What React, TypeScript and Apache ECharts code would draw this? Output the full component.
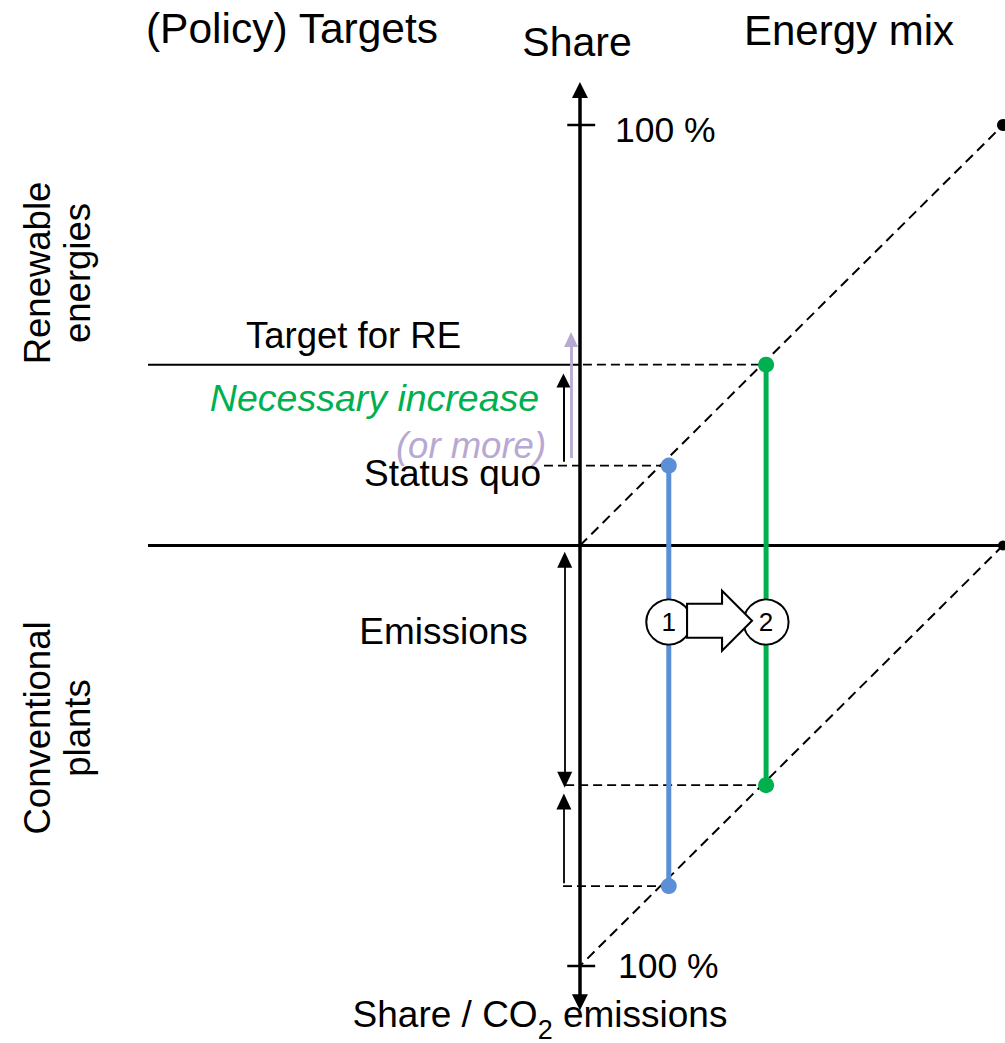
import React, { useEffect, useRef } from 'react';
import * as echarts from 'echarts';

const FONT = '"Liberation Sans", Arial, Helvetica, sans-serif';

// ---------------- data ----------------
// share axis in %: right part = energy mix, left part holds the annotations
const xRange = [-102.1, 100];
// up: renewable share, down: conventional share / CO2 emissions (room for arrow tips)
const yRange = [-112, 112];

const scenarioNames = ['1', '2']; // 1 = status quo, 2 = target
const scenarioShare = [21, 44]; // position along the energy-mix axis
const reShare = [19, 43]; // renewable energies share
const convShare = [-81, -57]; // conventional plants share (emissions)

const mixEnd = [100, 100]; // end point of the energy-mix diagonal
const tickValues = [100, -100];
const tickLabels = ['100 %', '100 %'];

// dashed guide lines start (x) for RE level / conventional level, per scenario
const guideStartRe = [-8.5, 0.7];
const guideStartConv = [-4, -3.5];

// arrows: x, from, to (tip), double headed?
const arrowNames = ['axis', 'emissions', 'reduction', 'increase', 'orMore'];
const arrowX = [0, -3.6, -3.8, -3.9, -2.1];
const arrowFrom = [-110.5, -1.5, -80.3, 19.9, 20.8];
const arrowTo = [110.2, -57.6, -59, 40.9, 50.8];
const arrowBoth = [true, true, false, false, false];

const circleLevel = -18.2;
const stepArrowPos = [33, -17.9];

// ---------------- styles ----------------
const BLACK = '#000000';
const scenarioColors = ['#5B8FD6', '#00B050'];
const arrowStyles = [
  { color: BLACK, width: 3.5, head: [16, 16] },
  { color: BLACK, width: 1.8, head: [15, 16] },
  { color: BLACK, width: 1.8, head: [15, 16] },
  { color: BLACK, width: 2, head: [14, 14] },
  { color: '#B7A9D3', width: 2.8, head: [14, 15] },
];

const PX_Y = 841 / 200;
const GRID = {
  left: 148,
  right: 2,
  top: 545.5 - yRange[1] * PX_Y,
  bottom: 1043 - (545.5 - yRange[0] * PX_Y),
};

function seg(name: string, pts: any[], lineStyle: any, z = 2) {
  return {
    type: 'line',
    name,
    data: pts,
    clip: false,
    silent: true,
    symbol: 'circle',
    symbolSize: 0,
    showSymbol: true,
    lineStyle,
    itemStyle: { color: lineStyle.color, opacity: 1 },
    emphasis: { disabled: true },
    z,
  };
}

function txt(text: string, x: number, y: number, size: number, o: any = {}) {
  const align = o.align || 'center';
  return {
    type: 'text',
    x,
    y,
    rotation: o.rotation || 0,
    silent: true,
    z: 20,
    style: {
      text,
      fill: o.color || BLACK,
      fontSize: size,
      fontFamily: FONT,
      fontStyle: o.italic ? 'italic' : 'normal',
      align,
      textAlign: align,
      verticalAlign: 'middle',
      textVerticalAlign: 'middle',
      lineHeight: o.lineHeight,
      rich: o.rich,
    },
  };
}

function buildOption() {
  const series: any[] = [];

  // target for RE (solid)
  series.push(
    seg('target', [[xRange[0], reShare[1]], [0, reShare[1]]], { color: BLACK, width: 2 })
  );

  // horizontal axis with end dot, also hosts the arrows
  const arrowData = arrowX.map((x, i) => {
    const st = arrowStyles[i];
    const dir = Math.sign(arrowTo[i] - arrowFrom[i]);
    const off = st.head[1] / 2 / PX_Y;
    return [
      {
        name: arrowNames[i],
        coord: [x, arrowBoth[i] ? arrowFrom[i] + dir * off : arrowFrom[i]],
        symbol: arrowBoth[i] ? 'triangle' : 'none',
        symbolSize: st.head,
        lineStyle: { color: st.color, width: st.width, type: 'solid' },
      },
      { coord: [x, arrowTo[i] - dir * off], symbol: 'triangle', symbolSize: st.head },
    ];
  });
  series.push({
    ...seg('axisX', [[xRange[0], 0], { value: [xRange[1], 0], symbolSize: 10 }], {
      color: BLACK,
      width: 3.2,
    }),
    markLine: {
      silent: true,
      animation: false,
      symbol: ['none', 'triangle'],
      label: { show: false },
      emphasis: { disabled: true },
      lineStyle: { type: 'solid' },
      data: arrowData,
    },
  });

  // energy-mix diagonals
  series.push(
    seg('mixUpper', [[0, 0], { value: mixEnd, symbolSize: 12 }], {
      color: BLACK,
      width: 2,
      type: [10, 6],
    })
  );
  series.push(
    seg('mixLower', [[mixEnd[0], 0], [0, -mixEnd[1]]], { color: BLACK, width: 2, type: [10, 6] })
  );

  // dashed guides
  scenarioShare.forEach((s, i) => {
    series.push(
      seg('guideRe' + i, [[guideStartRe[i], reShare[i]], [s, reShare[i]]], {
        color: BLACK,
        width: 1.8,
        type: [9, 5],
      })
    );
    series.push(
      seg('guideConv' + i, [[guideStartConv[i], convShare[i]], [s, convShare[i]]], {
        color: BLACK,
        width: 1.8,
        type: [9, 5],
      })
    );
  });

  // scenario bars
  scenarioShare.forEach((s, i) => {
    series.push(
      seg(
        'scenario' + i,
        [
          { value: [s, reShare[i]], symbolSize: 16 },
          { value: [s, convShare[i]], symbolSize: 16 },
        ],
        { color: scenarioColors[i], width: 5 },
        3
      )
    );
  });

  // ticks at 100 %
  tickValues.forEach((v, i) => {
    series.push(seg('tick' + i, [[-3, v], [3.6, v]], { color: BLACK, width: 2.5 }));
  });

  // numbered circles
  series.push({
    type: 'scatter',
    name: 'scenarios',
    clip: false,
    silent: true,
    data: scenarioNames.map((n, i) => ({ name: n, value: [scenarioShare[i], circleLevel] })),
    symbol: 'circle',
    symbolSize: 45,
    itemStyle: { color: '#ffffff', borderColor: BLACK, borderWidth: 2, opacity: 1 },
    label: {
      show: true,
      position: 'inside',
      formatter: '{b}',
      fontSize: 26,
      color: BLACK,
      fontFamily: FONT,
    },
    emphasis: { disabled: true },
    z: 5,
  });

  // block arrow 1 -> 2
  series.push({
    type: 'scatter',
    name: 'step',
    clip: false,
    silent: true,
    data: [stepArrowPos],
    symbol: 'path://M0,13L35,13L35,0L65,30L35,60L35,47L0,47Z',
    symbolSize: [65, 60],
    itemStyle: { color: '#ffffff', borderColor: BLACK, borderWidth: 2, opacity: 1 },
    emphasis: { disabled: true },
    z: 6,
  });

  const graphic = [
    txt('(Policy) Targets', 292, 28, 42.5),
    txt('Share', 577, 42, 41),
    txt('Energy mix', 849, 30, 42),
    txt(tickLabels[0], 615, 130, 35.5, { align: 'left' }),
    txt(tickLabels[1], 618, 966, 35.5, { align: 'left' }),
    txt('Renewable\nenergies', 57, 273, 36.5, { rotation: Math.PI / 2, lineHeight: 40 }),
    txt('Conventional\nplants', 57, 728, 36.5, { rotation: Math.PI / 2, lineHeight: 40 }),
    txt('Target for RE', 353.5, 335, 36.5),
    txt('Necessary increase', 374.5, 397.5, 37.5, { italic: true, color: '#00B050' }),
    txt('(or more)', 471, 445, 36.5, { italic: true, color: '#B7A9D3' }),
    txt('Status quo', 452.5, 473, 37),
    txt('Emissions', 443.5, 631, 37),
    txt('Share / CO{sub|2} emissions', 540, 1014.5, 37, {
      lineHeight: 44,
      rich: { sub: { fontSize: 27, padding: [30, 0, 0, 0], fontFamily: FONT, fill: BLACK } },
    }),
  ];

  return {
    animation: false,
    backgroundColor: '#ffffff',
    grid: GRID,
    xAxis: { type: 'value', min: xRange[0], max: xRange[1], show: false },
    yAxis: { type: 'value', min: yRange[0], max: yRange[1], show: false },
    tooltip: { show: false },
    series,
    graphic,
  };
}

export default function App() {
  const ref = useRef<HTMLDivElement>(null);
  useEffect(() => {
    if (!ref.current) return;
    const chart = echarts.init(ref.current, null, { renderer: 'svg' });
    chart.setOption(buildOption() as any);
    return () => chart.dispose();
  }, []);
  return (
    <div
      ref={ref}
      style={{ position: 'absolute', left: 0, top: 0, width: 1005, height: 1043, background: '#fff' }}
    />
  );
}
